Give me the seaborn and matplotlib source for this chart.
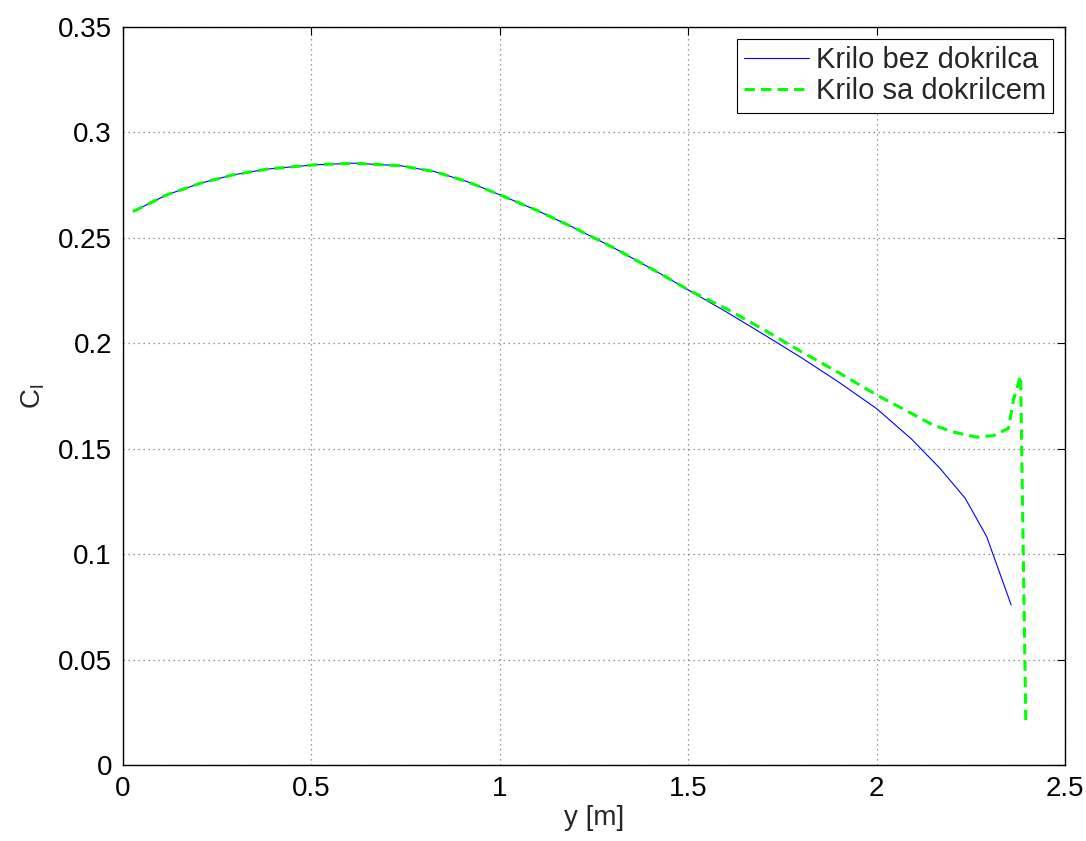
import numpy as np
import pandas as pd
import matplotlib
matplotlib.use("Agg")
import matplotlib.pyplot as plt
import seaborn as sns

# Data
common_x = [0.027, 0.116, 0.205, 0.293, 0.382, 0.506, 0.612, 0.737, 0.825, 0.913,
            1.0, 1.1, 1.2, 1.3, 1.427, 1.5]
common_y = [0.2625, 0.2704, 0.2759, 0.2799, 0.2826, 0.2846, 0.2854, 0.2842, 0.2815, 0.2767,
            0.2704, 0.2629, 0.2545, 0.2455, 0.2329, 0.2253]

blue_tail_x = [1.6, 1.7, 1.8, 1.9, 2.0, 2.093, 2.168, 2.235, 2.292, 2.357]
blue_tail_y = [0.2150, 0.2042, 0.1932, 0.1815, 0.1690, 0.1545, 0.1407, 0.1265, 0.1083, 0.0759]

green_tail_x = [1.6, 1.7, 1.8, 1.9, 2.0, 2.1, 2.149, 2.202, 2.264, 2.31, 2.35, 2.363, 2.382, 2.396]
green_tail_y = [0.2165, 0.2065, 0.196, 0.186, 0.1755, 0.166, 0.1613, 0.158, 0.1555, 0.1562, 0.1597, 0.1731, 0.1845, 0.019]

labels = ["Krilo bez dokrilca", "Krilo sa dokrilcem"]
x_ticks = [0, 0.5, 1, 1.5, 2, 2.5]
y_ticks = [0, 0.05, 0.1, 0.15, 0.2, 0.25, 0.3, 0.35]

df_blue = pd.DataFrame({"y": common_x + blue_tail_x, "cl": common_y + blue_tail_y})
df_green = pd.DataFrame({"y": common_x + green_tail_x, "cl": common_y + green_tail_y})

sns.set_style("white")
plt.rcParams["font.family"] = ["Liberation Sans", "DejaVu Sans"]
plt.rcParams["mathtext.fontset"] = "custom"
plt.rcParams["mathtext.rm"] = "Liberation Sans"

fig = plt.figure(figsize=(10.86, 8.41), dpi=100)
ax = fig.add_axes([0.1133, 0.0904, 0.8674, 0.8775])

sns.lineplot(data=df_blue, x="y", y="cl", ax=ax, color="#0000FF", linewidth=0.8,
             sort=False, label=labels[0])
sns.lineplot(data=df_green, x="y", y="cl", ax=ax, color="#00FF00", linewidth=2.2,
             sort=False, label=labels[1], dashes=False)
ax.lines[1].set_dashes((3.4, 2.0))

ax.set_xlim(0, 2.5)
ax.set_ylim(0, 0.35)
ax.set_xticks(x_ticks)
ax.set_xticklabels(["0", "0.5", "1", "1.5", "2", "2.5"])
ax.set_yticks(y_ticks)
ax.set_yticklabels(["0", "0.05", "0.1", "0.15", "0.2", "0.25", "0.3", "0.35"])
ax.tick_params(direction="in", length=6, width=0.8, labelsize=20, top=True, right=True,
               colors="black", pad=8)
ax.grid(True, linestyle=(0, (1, 3)), color="#777777", linewidth=0.9)
for s in ax.spines.values():
    s.set_visible(True)
    s.set_color("black")
    s.set_linewidth(1.0)

ax.set_xlabel("y [m]", fontsize=20, labelpad=2)
ax.set_ylabel(r"C$_\mathregular{l}$", fontsize=20, labelpad=8)

leg = ax.legend(loc="upper right", fontsize=21, frameon=True, fancybox=False,
                edgecolor="black", framealpha=1, handlelength=2.2, handletextpad=0.25,
                borderpad=0.25, labelspacing=0.12, borderaxespad=0.4)
leg.get_frame().set_linewidth(0.8)
leg.get_lines()[1].set_dashes((3.4, 2.0))

fig.savefig("out.png", dpi=100, facecolor="white")
